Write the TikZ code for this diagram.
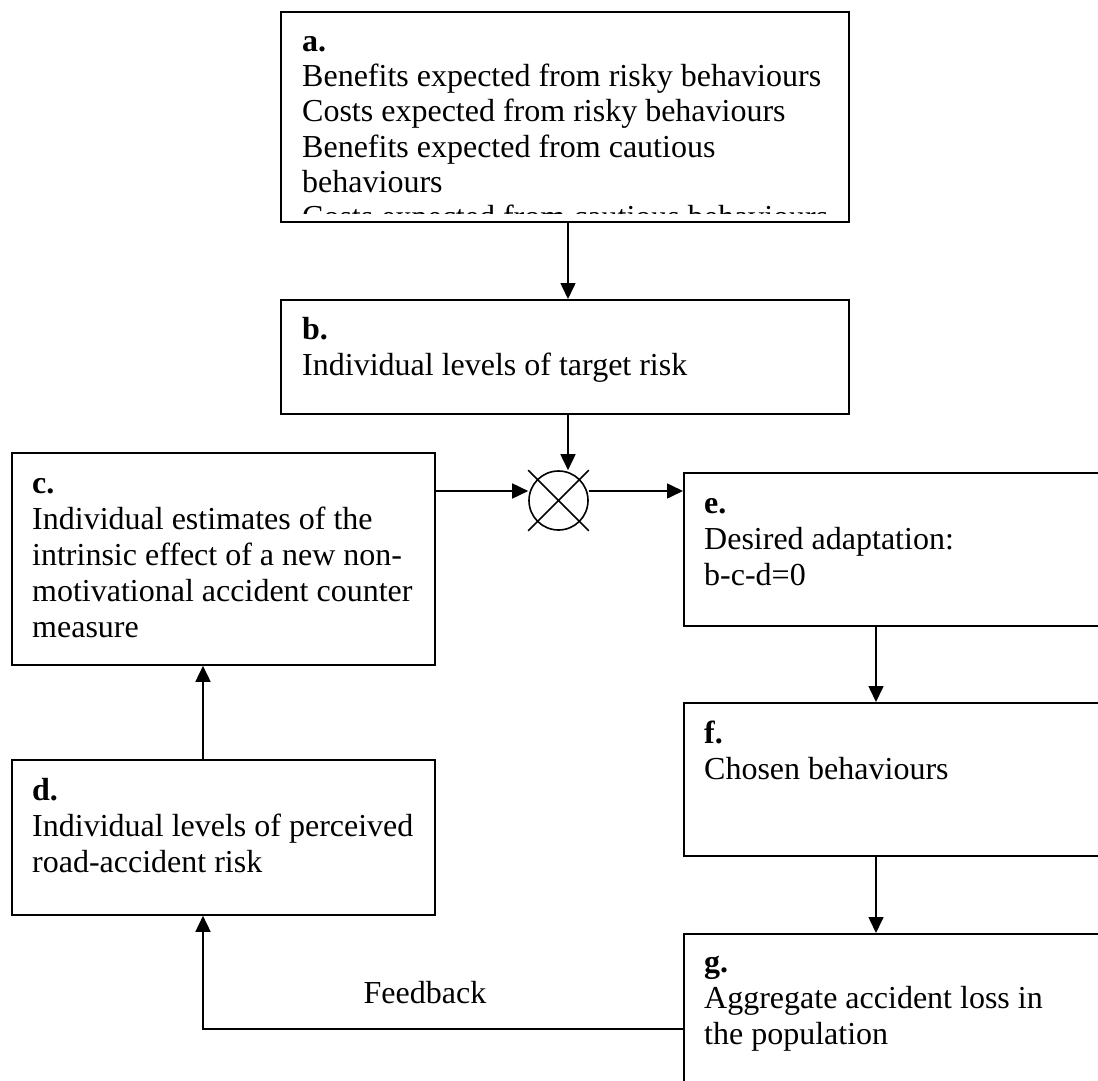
\documentclass[tikz,border=0pt]{standalone}
\usepackage{fontspec}
\setmainfont{Liberation Serif}
\usetikzlibrary{arrows.meta,calc}
\tikzset{
  box/.style={draw, line width=1.8pt, rectangle, inner sep=0pt, anchor=north west},
  txt/.style={anchor=north west, inner sep=0pt, align=left, font=\fontsize{32}{36}\selectfont},
  arr/.style={-{Triangle[length=16pt,width=15pt]}, line width=1.6pt},
  plain/.style={line width=1.6pt}
}
\newcommand{\fl}{\rule{0pt}{25pt}}
\begin{document}
\begin{tikzpicture}[x=1pt,y=-1pt]
\clip (0,0) rectangle (1098,1081);
\fill[white] (0,0) rectangle (1098,1081);
% boxes
\node[box, minimum width=568pt, minimum height=210pt] (a) at (280,11) {};
\node[box, minimum width=568pt, minimum height=114pt] (b) at (280,299) {};
\node[box, minimum width=423pt, minimum height=212pt] (c) at (11,452) {};
\node[box, minimum width=423pt, minimum height=155pt] (d) at (11,759) {};
\node[box, minimum width=450pt, minimum height=153pt] (e) at (683,472) {};
\node[box, minimum width=450pt, minimum height=153pt] (f) at (683,702) {};
\node[box, minimum width=450pt, minimum height=200pt] (g) at (683,933) {};
\node[draw, circle, line width=1.6pt, minimum size=59pt, inner sep=0pt] (sum) at (558.5,500.5) {};
% texts
\begin{scope}
\clip ([xshift=1pt,yshift=-1pt]a.north west) rectangle ([xshift=-1pt,yshift=9pt]a.south east);
\node[txt, font=\fontsize{32}{35.3}\selectfont] (ta) at (302,26) {\fl\textbf{a.}\\Benefits expected from risky behaviours\\Costs expected from risky behaviours\\Benefits expected from cautious\\behaviours\\Costs expected from cautious behaviours};
\end{scope}
\node[txt] (tb) at (302,314) {\fl\textbf{b.}\\Individual levels of target risk};
\node[txt] (tc) at (32,468) {\fl\textbf{c.}\\Individual estimates of the\\intrinsic effect of a new non-\\motivational accident counter\\measure};
\node[txt] (td) at (32,775) {\fl\textbf{d.}\\Individual levels of perceived\\road-accident risk};
\node[txt] (te) at (704,488) {\fl\textbf{e.}\\Desired adaptation:\\b-c-d=0};
\node[txt] (tf) at (704,718) {\fl\textbf{f.}\\Chosen behaviours};
\node[txt] (tg) at (704,947) {\fl\textbf{g.}\\Aggregate accident loss in\\the population};
\node[anchor=base, inner sep=0pt, font=\fontsize{32}{36}\selectfont] (fbl) at (425,1003) {Feedback};
% helper coordinates
\coordinate (xab) at (568,0);
\coordinate (hy) at (0,491);
\coordinate (xef) at (876,0);
\coordinate (xd) at (203,0);
\coordinate (yfb) at (0,1029);
% cross in summing junction
\draw[plain] (sum.west |- sum.north) -- (sum.east |- sum.south)
             (sum.west |- sum.south) -- (sum.east |- sum.north);
% connectors
\draw[arr] (a.south -| xab) -- (b.north -| xab);
\draw[arr] (b.south -| xab) -- (sum.north -| xab);
\draw[arr] (c.east |- hy) -- (sum.west |- hy);
\draw[arr] (sum.east |- hy) -- (e.west |- hy);
\draw[arr] (e.south -| xef) -- (f.north -| xef);
\draw[arr] (f.south -| xef) -- (g.north -| xef);
\draw[arr] (g.west |- yfb) -| (d.south -| xd);
\draw[arr] (d.north -| xd) -- (c.south -| xd);
\end{tikzpicture}
\end{document}
